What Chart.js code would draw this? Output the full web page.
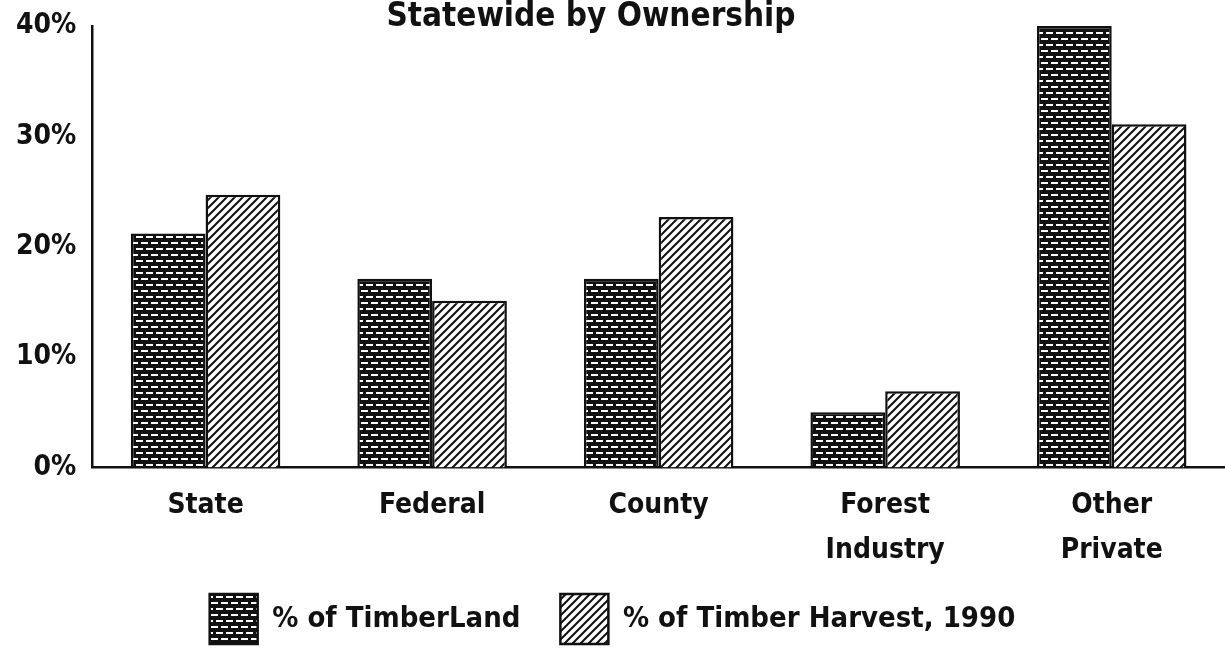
<!DOCTYPE html>
<html>
<head>
<meta charset="utf-8">
<script src="https://cdn.jsdelivr.net/npm/chart.js@4"></script>
<style>
  html, body { margin: 0; padding: 0; background: #fff; }
  #wrap { width: 1225px; height: 654px; position: relative; }
</style>
</head>
<body>
<div id="wrap"><canvas id="chart"></canvas></div>
<script>
// data
const categories = ['State', 'Federal', 'County', ['Forest', 'Industry'], ['Other', 'Private']];
const timberLand = [21.2, 17.1, 17.1, 5.0, 40.0];
const timberHarvest = [24.7, 15.1, 22.7, 6.9, 31.1];
const seriesNames = ['% of TimberLand', '% of Timber Harvest, 1990'];
const yTicks = [0, 10, 20, 30, 40];

const ink = '#111';
const fontFamily = '"DejaVu Sans Condensed", "DejaVu Sans", sans-serif';
const legendOverlap = 35; // x labels and legend share this much height

// brick-like fill for timberland
function brickPattern() {
    const c = document.createElement('canvas');
    c.width = 20; c.height = 12;
    const g = c.getContext('2d');
    g.fillStyle = ink;
    g.fillRect(0, 0, 20, 12);
    g.fillStyle = '#fff';
    g.fillRect(1, 2, 7, 2);
    g.fillRect(11, 2, 7, 2);
    g.fillRect(6, 8, 7, 2);
    g.fillRect(16, 8, 4, 2);
    g.fillRect(0, 8, 3, 2);
    return g.createPattern(c, 'repeat');
}

// diagonal hatch for harvest
function hatchPattern() {
    const c = document.createElement('canvas');
    c.width = 8; c.height = 8;
    const g = c.getContext('2d');
    g.fillStyle = '#fff';
    g.fillRect(0, 0, 8, 8);
    g.strokeStyle = ink;
    g.lineWidth = 2;
    g.beginPath();
    g.moveTo(-2, 10); g.lineTo(10, -2);
    g.moveTo(-6, 6); g.lineTo(6, -6);
    g.moveTo(2, 14); g.lineTo(14, 2);
    g.stroke();
    return g.createPattern(c, 'repeat');
}

// title sits over the plot area without taking layout space
const titlePlugin = {
    id: 'topTitle',
    afterLayout(chart) {
        // give the x labels their full box back so they are not clipped
        const x = chart.scales.x;
        x.bottom += legendOverlap;
        x.height += legendOverlap;
    },
    afterDraw(chart) {
        const g = chart.ctx;
        g.save();
        g.font = 'bold 33px ' + fontFamily;
        g.fillStyle = ink;
        g.textAlign = 'center';
        g.textBaseline = 'alphabetic';
        g.fillText('Statewide by Ownership', 591, 26);
        g.restore();
    }
};

const ctx = document.getElementById('chart').getContext('2d');
new Chart(ctx, {
    type: 'bar',
    data: {
        labels: categories,
        datasets: [{
            label: seriesNames[0],
            data: timberLand,
            backgroundColor: brickPattern(),
            borderColor: ink,
            borderWidth: 2.5,
            categoryPercentage: 0.66,
            barPercentage: 1
        }, {
            label: seriesNames[1],
            data: timberHarvest,
            backgroundColor: hatchPattern(),
            borderColor: ink,
            borderWidth: 2.5,
            categoryPercentage: 0.66,
            barPercentage: 1
        }]
    },
    options: {
        responsive: true,
        maintainAspectRatio: false,
        animation: false,
        layout: { padding: { top: 26, left: 0, right: 0, bottom: 0 } },
        plugins: {
            tooltip: { enabled: false },
            title: { display: false },
            legend: {
                position: 'bottom',
                labels: {
                    boxWidth: 48,
                    boxHeight: 50,
                    padding: 40,
                    color: ink,
                    font: { family: fontFamily, size: 29, weight: 'bold' }
                }
            }
        },
        scales: {
            x: {
                grid: { display: false, drawTicks: false },
                border: { color: ink, width: 2.5 },
                afterFit(axis) { axis.height -= legendOverlap; },
                ticks: {
                    color: ink,
                    padding: 16,
                    maxRotation: 0,
                    font: { family: fontFamily, size: 28, weight: 'bold', lineHeight: 1.6 }
                }
            },
            y: {
                min: yTicks[0],
                max: yTicks[yTicks.length - 1],
                afterBuildTicks(axis) { axis.ticks = yTicks.map(v => ({ value: v })); },
                grid: { display: false, drawTicks: false },
                border: { color: ink, width: 2.5 },
                ticks: {
                    color: ink,
                    padding: 16,
                    callback: v => v + '%',
                    font: { family: fontFamily, size: 28, weight: 'bold', lineHeight: 0.5 }
                }
            }
        }
    },
    plugins: [titlePlugin]
});
</script>
</body>
</html>
